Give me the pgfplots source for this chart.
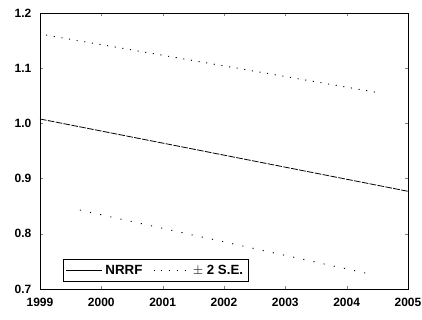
\documentclass[border=0pt]{standalone}
\usepackage{fontspec}
\setmainfont{Liberation Sans}
\usepackage{pgfplots}
\pgfplotsset{compat=1.18}
\begin{document}
\begin{tikzpicture}
\begin{axis}[
  scale only axis,
  width=276pt, height=207pt,
  xmin=1999, xmax=2005, ymin=0.7, ymax=1.2,
  xtick={1999,2000,2001,2002,2003,2004,2005},
  xticklabels={1999,2000,2001,2002,2003,2004,2005},
  ytick={0.7,0.8,0.9,1.0,1.1,1.2},
  yticklabels={0.7,0.8,0.9,1.0,1.1,1.2},
  tick label style={font=\fontsize{9}{10}\selectfont\bfseries},
  xticklabel style={yshift=-3pt},
  yticklabel style={xshift=-3pt},
  tick align=inside, major tick length=2pt,
  axis line style={line width=0.6pt},
  legend style={at={(0.0625,0.025)}, anchor=south west, legend columns=-1,
    draw=black, line width=0.6pt, inner sep=2pt,
    font=\fontsize{10}{11}\selectfont\bfseries,
    /tikz/every even column/.append style={column sep=6pt}},
  legend image code/.code={\draw[#1] (0cm,0cm) -- (0.95cm,0cm);},
  legend cell align=left,
]
\addplot[black, line width=0.6pt, dash pattern=on 5pt off 1pt, forget plot] coordinates {(1999,1.008) (2005,0.877)};
\addlegendimage{black, line width=0.5pt}
\addlegendentry{NRRF}
\addplot[black, line width=0.7pt, dash pattern=on 0.8pt off 5pt] coordinates {(1999.1,1.160) (2004.5,1.056)};
\addlegendimage{black, line width=0.6pt, dash pattern=on 0.8pt off 1.5pt}
\addlegendentry{$\pm$ 2 S.E.}
\addplot[black, line width=0.7pt, dash pattern=on 0.8pt off 7pt, forget plot] coordinates {(1999.65,0.843) (2004.3,0.729)};
\end{axis}
\pgfresetboundingbox
\path (current axis.south west) ++(-30pt,-23.25pt) rectangle ++(316.5pt,240pt);
\end{tikzpicture}
\end{document}
